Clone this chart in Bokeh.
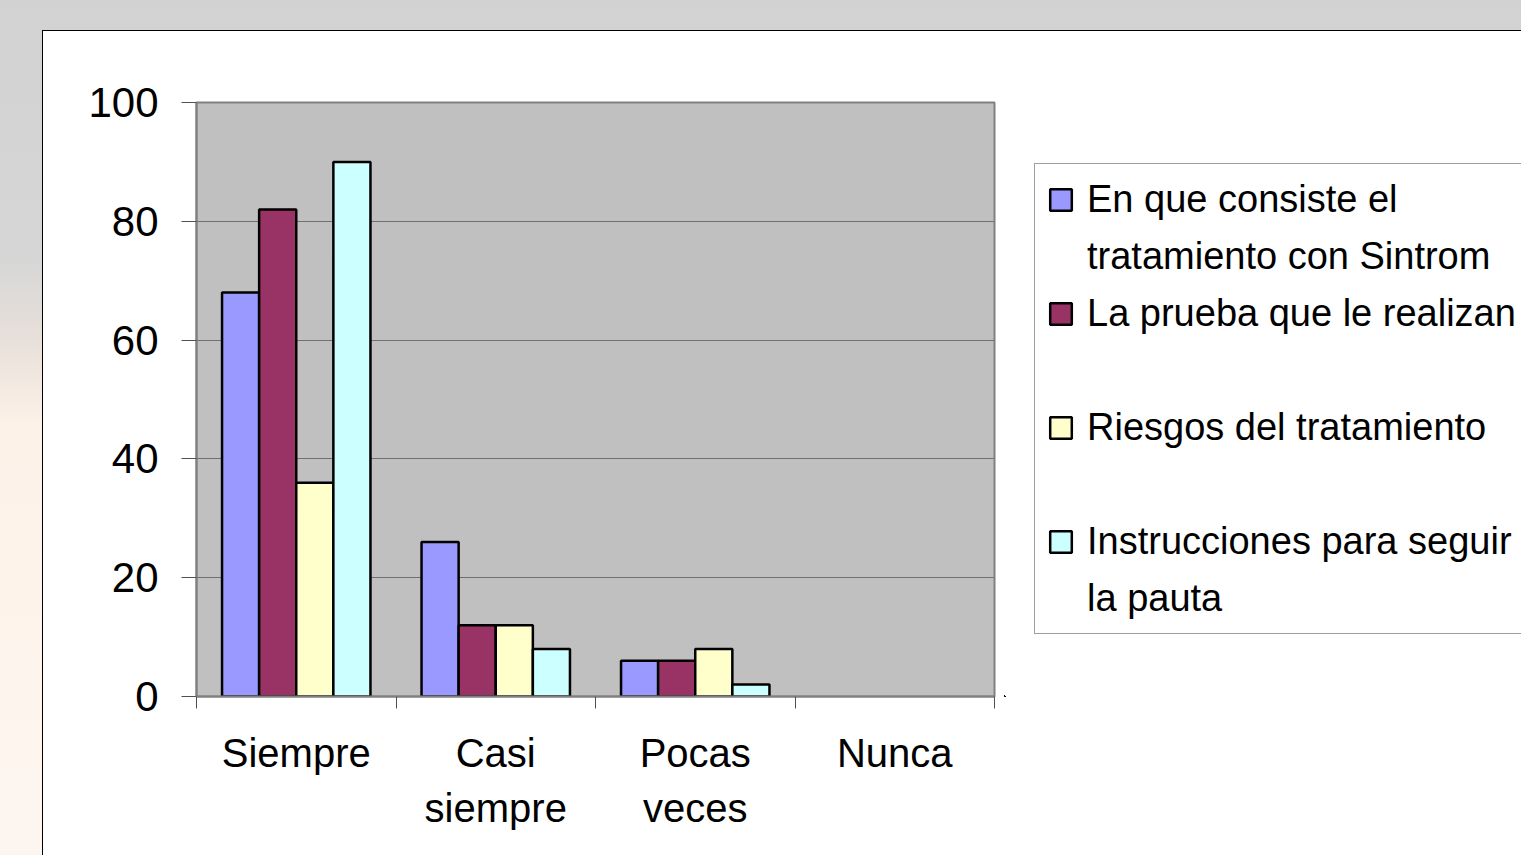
import numpy as np
from bokeh.plotting import figure
from bokeh.models import (ColumnDataSource, FixedTicker, Legend, LegendItem, Range1d,
                          CDSView, BooleanFilter)
from bokeh.layouts import column, row
from bokeh.embed import file_html
from bokeh.resources import INLINE

# ---- data ----
categories = ["Siempre", "Casi\nsiempre", "Pocas\nveces", "Nunca"]
series_names = [
    ["En que consiste el", "tratamiento con Sintrom"],
    ["La prueba que le realizan", " "],
    ["Riesgos del tratamiento", " "],
    ["Instrucciones para seguir", "la pauta"],
]
en_que_consiste = [68, 26, 6, 0]
la_prueba = [82, 12, 6, 0]
riesgos = [36, 12, 8, 0]
instrucciones = [90, 8, 2, 0]
y_ticks = [0, 20, 40, 60, 80, 100]

series_values = [en_que_consiste, la_prueba, riesgos, instrucciones]
colors = ["#9999FF", "#993366", "#FFFFCC", "#CCFFFF"]

FONT = "Liberation Sans"
FS = "40px"

# ---- main chart ----
p = figure(width=961, height=824, x_range=Range1d(0, len(categories)),
           y_range=Range1d(0, 100), output_backend="svg", toolbar_location=None,
           min_border_left=153, min_border_top=71, min_border_right=10, min_border_bottom=159)
p.background_fill_color = "#C0C0C0"
p.border_fill_color = "white"
p.outline_line_color = "#808080"
p.outline_line_width = 2

bar_w = 0.186
n = len(series_values)
centers = np.arange(len(categories)) + 0.5
sources = []
for i, (vals, col) in enumerate(zip(series_values, colors)):
    off = (i - (n - 1) / 2) * bar_w
    src = ColumnDataSource(dict(x=centers + off, top=vals))
    sources.append(src)
    view = CDSView(filter=BooleanFilter([v > 0 for v in vals]))
    p.vbar(x="x", top="top", bottom=0, width=bar_w, source=src, view=view,
           fill_color=col, line_color="black", line_width=2.5)

# x axis: labels at category centres, ticks at boundaries
xa = p.xaxis[0]
xa.ticker = FixedTicker(ticks=list(centers), minor_ticks=list(range(len(categories) + 1)))
xa.major_label_overrides = {float(c): lab for c, lab in zip(centers, categories)}
xa.major_tick_line_color = None
xa.major_tick_out = 12
xa.major_tick_in = 0
xa.minor_tick_out = 12
xa.minor_tick_in = 0
xa.minor_tick_line_color = "#505050"
xa.minor_tick_line_width = 1
xa.axis_line_color = "#808080"
xa.axis_line_width = 2
xa.major_label_text_font = FONT
xa.major_label_text_font_size = FS
xa.major_label_text_color = "black"
xa.major_label_text_line_height = 1.25
xa.major_label_standoff = 22

ya = p.yaxis[0]
ya.ticker = FixedTicker(ticks=y_ticks, minor_ticks=[])
ya.major_tick_out = 15
ya.major_tick_in = 0
ya.major_tick_line_color = "#505050"
ya.axis_line_color = "#808080"
ya.axis_line_width = 2
ya.major_label_text_font = FONT
ya.major_label_text_font_size = "42px"
ya.major_label_text_color = "black"
ya.major_label_standoff = 23

p.xgrid.visible = False
p.ygrid.ticker = FixedTicker(ticks=y_ticks)
p.ygrid.grid_line_color = "#707070"
p.ygrid.grid_line_width = 1

# ---- legend panel (separate canvas to the right of the chart) ----
# its ranges lie away from the data, so its proxy bars stay out of view
lp = figure(width=517, height=824, x_range=Range1d(100, 101), y_range=Range1d(100, 101),
            x_axis_type=None, y_axis_type=None, output_backend="svg", toolbar_location=None,
            min_border=0)
lp.background_fill_color = "white"
lp.border_fill_color = "white"
lp.outline_line_color = None

blank = lp.vbar(x=[], top=[], width=0.1, fill_alpha=0, line_alpha=0)
items = []
for (first, second), col, src in zip(series_names, colors, sources):
    key = lp.vbar(x="x", top="top", width=bar_w, source=src,
                  fill_color=col, line_color="black", line_width=2.5)
    items.append(LegendItem(label=first, renderers=[key]))
    items.append(LegendItem(label=second, renderers=[blank]))

legend = Legend(items=items, location=(30, 62))
legend.label_text_font = FONT
legend.label_text_font_size = "38px"
legend.label_text_color = "black"
legend.label_text_line_height = 1.2
legend.label_height = 46
legend.glyph_width = 27
legend.glyph_height = 27
legend.label_standoff = 13
legend.padding = 12
legend.spacing = 11
legend.margin = 0
legend.border_line_color = "#404040"
legend.border_line_width = 1
legend.background_fill_color = "white"
legend.background_fill_alpha = 1
lp.add_layout(legend, "center")

chart = row(p, lp, spacing=0)
inner = column(chart, styles={"background-color": "white",
                              "border-left": "1px solid black", "border-top": "1px solid black"})
outer = column(inner, styles={
    "background": "linear-gradient(to bottom, #d2d2d2 0%, #d6d6d6 30%, #e8e0da 40%, #fdf2e8 50%, #fdf5f0 100%)",
    "padding-left": "42px", "padding-top": "30px"})

open("out.html", "w").write(file_html(outer, INLINE))
